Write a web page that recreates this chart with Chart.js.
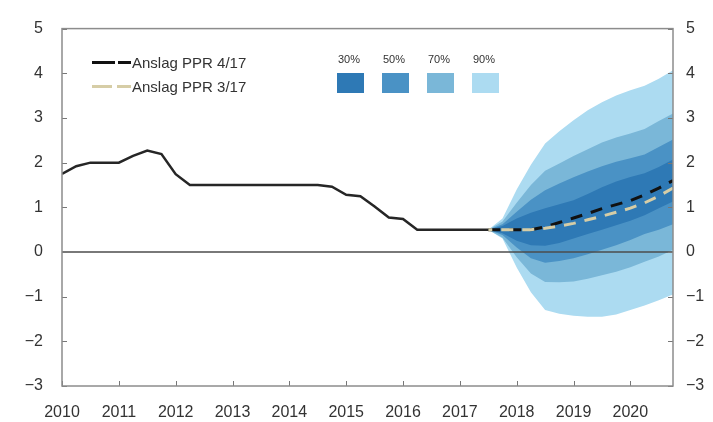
<!DOCTYPE html>
<html>
<head>
<meta charset="utf-8">
<script src="https://cdn.jsdelivr.net/npm/chart.js@4.4.0/dist/chart.umd.min.js"></script>
<style>
  html, body { margin: 0; padding: 0; background: #fff; }
  #wrap { position: relative; width: 713px; height: 422px; }
  canvas { display: block; }
  .txt { position: absolute; font-family: "Liberation Sans", Arial, sans-serif; color: #333; white-space: nowrap; line-height: 1; }
  .seg { position: absolute; height: 3px; }
  .box { position: absolute; width: 27px; height: 20px; }
</style>
</head>
<body>
<div id="wrap">
  <canvas id="chart" width="713" height="422"></canvas>

  <!-- line legend -->
  <div class="seg" style="left:92px; top:61px; width:23px; background:#111;"></div>
  <div class="seg" style="left:118px; top:61px; width:13px; background:#111;"></div>
  <div class="txt" style="left:132px; top:55px; font-size:15px;">Anslag PPR 4/17</div>
  <div class="seg" style="left:92px; top:85px; width:20px; background:#d6cda6;"></div>
  <div class="seg" style="left:117px; top:85px; width:14px; background:#d6cda6;"></div>
  <div class="txt" style="left:132px; top:79px; font-size:15px;">Anslag PPR 3/17</div>

  <!-- fan legend -->
  <div class="txt" style="left:338px; top:54px; font-size:11px;">30%</div>
  <div class="txt" style="left:383px; top:54px; font-size:11px;">50%</div>
  <div class="txt" style="left:428px; top:54px; font-size:11px;">70%</div>
  <div class="txt" style="left:473px; top:54px; font-size:11px;">90%</div>
  <div class="box" style="left:337px; top:73px; background:#2e79b5;"></div>
  <div class="box" style="left:382px; top:73px; background:#4a92c5;"></div>
  <div class="box" style="left:427px; top:73px; background:#7ab7d8;"></div>
  <div class="box" style="left:472px; top:73px; background:#acdbf1;"></div>
</div>

<script>
// Historical key policy rate, quarterly
const histYears = [2010, 2010.25, 2010.5, 2010.75, 2011, 2011.25, 2011.5, 2011.75,
    2012, 2012.25, 2012.5, 2012.75, 2013, 2013.25, 2013.5, 2013.75,
    2014, 2014.25, 2014.5, 2014.75, 2015, 2015.25, 2015.5, 2015.75,
    2016, 2016.25, 2016.5, 2016.75, 2017, 2017.25, 2017.5];
const histRate = [1.75, 1.92, 2.0, 2.0, 2.0, 2.15, 2.27, 2.19,
    1.74, 1.5, 1.5, 1.5, 1.5, 1.5, 1.5, 1.5,
    1.5, 1.5, 1.5, 1.46, 1.28, 1.25, 1.02, 0.77,
    0.74, 0.5, 0.5, 0.5, 0.5, 0.5, 0.5];

// Forecast period
const foreYears = [2017.5, 2017.75, 2018, 2018.25, 2018.5, 2018.75, 2019,
    2019.25, 2019.5, 2019.75, 2020, 2020.25, 2020.5, 2020.75];
const ppr417 = [0.5, 0.5, 0.5, 0.5, 0.56, 0.66, 0.76, 0.86, 0.97, 1.06, 1.15, 1.28, 1.43, 1.6];
const ppr317 = [0.5, 0.5, 0.5, 0.5, 0.53, 0.58, 0.64, 0.72, 0.8, 0.89, 0.98, 1.1, 1.25, 1.43];

// Fan chart bands
const band30Hi = [0.5, 0.58, 0.75, 0.88, 0.98, 1.07, 1.16, 1.3, 1.45, 1.58, 1.68, 1.76, 1.9, 2.07];
const band30Lo = [0.5, 0.42, 0.25, 0.15, 0.14, 0.2, 0.3, 0.4, 0.5, 0.6, 0.7, 0.82, 0.98, 1.13];
const band50Hi = [0.5, 0.62, 0.9, 1.17, 1.38, 1.53, 1.67, 1.8, 1.92, 2.02, 2.1, 2.18, 2.35, 2.52];
const band50Lo = [0.5, 0.38, 0.1, -0.14, -0.24, -0.2, -0.14, -0.05, 0.05, 0.15, 0.27, 0.4, 0.5, 0.62];
const band70Hi = [0.5, 0.68, 1.1, 1.5, 1.82, 1.98, 2.15, 2.3, 2.45, 2.56, 2.65, 2.75, 2.93, 3.1];
const band70Lo = [0.5, 0.32, -0.12, -0.48, -0.67, -0.68, -0.66, -0.6, -0.52, -0.44, -0.34, -0.22, -0.1, 0.05];
const band90Hi = [0.5, 0.75, 1.4, 1.95, 2.43, 2.7, 2.95, 3.17, 3.35, 3.5, 3.62, 3.72, 3.88, 4.07];
const band90Lo = [0.5, 0.3, -0.35, -0.9, -1.3, -1.38, -1.43, -1.45, -1.45, -1.4, -1.3, -1.2, -1.08, -0.95];

const xTickYears = [2010, 2011, 2012, 2013, 2014, 2015, 2016, 2017, 2018, 2019, 2020];
const yTickValues = [-3, -2, -1, 0, 1, 2, 3, 4, 5];

const FONT = "'Liberation Sans', Arial, sans-serif";

function pts(xs, ys) {
    return xs.map((x, i) => ({ x: x, y: ys[i] }));
}

function band(data, color, target) {
    return {
        data: data,
        borderWidth: 0,
        pointRadius: 0,
        backgroundColor: color,
        fill: target === undefined ? false : target,
    };
}

// zero line, inward tick marks and the box around the plot
const framePlugin = {
    id: "frame",
    afterDatasetsDraw(chart) {
        const { ctx, chartArea: a, scales } = chart;
        ctx.save();

        const y0 = scales.y.getPixelForValue(0);
        ctx.strokeStyle = "#4d4d4d";
        ctx.lineWidth = 1.5;
        ctx.beginPath();
        ctx.moveTo(a.left, y0);
        ctx.lineTo(a.right, y0);
        ctx.stroke();

        ctx.strokeStyle = "#777";
        ctx.lineWidth = 1;
        ctx.beginPath();
        yTickValues.forEach((v) => {
            const y = Math.round(scales.y.getPixelForValue(v)) + 0.5;
            ctx.moveTo(a.left, y);
            ctx.lineTo(a.left + 5, y);
            ctx.moveTo(a.right - 5, y);
            ctx.lineTo(a.right, y);
        });
        xTickYears.forEach((v) => {
            const x = Math.round(scales.x.getPixelForValue(v)) + 0.5;
            ctx.moveTo(x, a.bottom);
            ctx.lineTo(x, a.bottom - 5);
        });
        ctx.stroke();

        ctx.strokeStyle = "#8c8c8c";
        ctx.lineWidth = 1.5;
        ctx.strokeRect(a.left, a.top, a.right - a.left, a.bottom - a.top);
        ctx.restore();
    },
};

const yTicks = {
    stepSize: 1,
    color: "#333",
    font: { family: FONT, size: 16 },
    callback: (v) => String(v).replace("-", "\u2212"),
};

new Chart(document.getElementById("chart").getContext("2d"), {
    type: "line",
    data: {
        datasets: [
            {
                data: pts(histYears, histRate),
                borderColor: "#262626",
                borderWidth: 2.5,
                pointRadius: 0,
                fill: false,
            },
            {
                data: pts(foreYears, ppr317),
                borderColor: "#d6cda6",
                borderWidth: 3,
                borderDash: [12, 9],
                borderDashOffset: 8,
                pointRadius: 0,
                fill: false,
            },
            {
                data: pts(foreYears, ppr417),
                borderColor: "#111",
                borderWidth: 3,
                borderDash: [12, 9],
                pointRadius: 0,
                fill: false,
            },
            band(pts(foreYears, band30Hi), "#2e79b5", 4),
            band(pts(foreYears, band30Lo), "#2e79b5"),
            band(pts(foreYears, band50Hi), "#4a92c5", 6),
            band(pts(foreYears, band50Lo), "#4a92c5"),
            band(pts(foreYears, band70Hi), "#7ab7d8", 8),
            band(pts(foreYears, band70Lo), "#7ab7d8"),
            band(pts(foreYears, band90Hi), "#acdbf1", 10),
            band(pts(foreYears, band90Lo), "#acdbf1"),
        ],
    },
    options: {
        responsive: false,
        animation: false,
        devicePixelRatio: 1,
        layout: { padding: { top: 19, left: 0, right: 0, bottom: 0 } },
        plugins: {
            legend: { display: false },
            tooltip: { enabled: false },
        },
        elements: { line: { tension: 0 } },
        scales: {
            x: {
                type: "linear",
                min: 2010,
                max: 2020.75,
                grid: { display: false, drawTicks: false },
                border: { display: false },
                afterBuildTicks: (s) => {
                    s.ticks = xTickYears.map((v) => ({ value: v }));
                },
                afterFit: (s) => {
                    s.height = 36;
                },
                ticks: {
                    autoSkip: false,
                    maxRotation: 0,
                    padding: 17,
                    color: "#333",
                    font: { family: FONT, size: 16 },
                    callback: (v) => String(v),
                },
            },
            y: {
                position: "left",
                min: -3,
                max: 5,
                grid: { display: false, drawTicks: false },
                border: { display: false },
                afterFit: (s) => {
                    s.width = 62;
                },
                ticks: Object.assign({ padding: 19 }, yTicks),
            },
            y2: {
                position: "right",
                min: -3,
                max: 5,
                grid: { display: false, drawTicks: false },
                border: { display: false },
                afterFit: (s) => {
                    s.width = 40;
                },
                ticks: Object.assign({ padding: 13 }, yTicks),
            },
        },
    },
    plugins: [framePlugin],
});
</script>
</body>
</html>
